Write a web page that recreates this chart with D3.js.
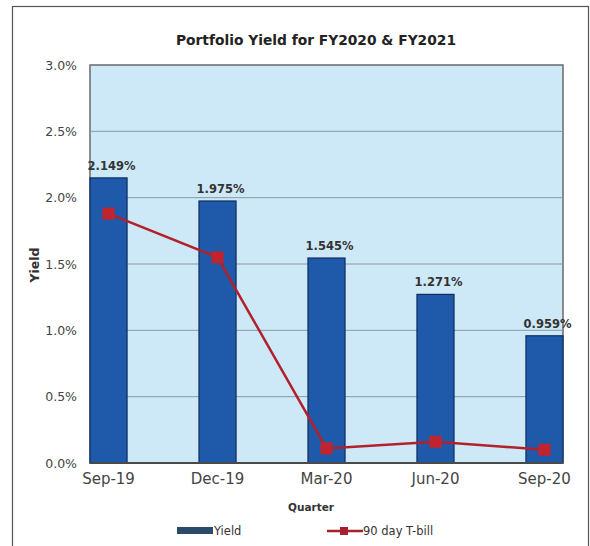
<!DOCTYPE html>
<html>
<head>
<meta charset="utf-8">
<script src="https://cdn.jsdelivr.net/npm/d3@7"></script>
<style>
  body { margin: 0; background: #fff; }
  text { font-family: "DejaVu Sans", sans-serif; }
</style>
</head>
<body>
<div id="chart"></div>
<script>
// chart values
var quarters = ["Sep-19", "Dec-19", "Mar-20", "Jun-20", "Sep-20"];
var yieldValues = [2.149, 1.975, 1.545, 1.271, 0.959];
var tbillValues = [1.88, 1.55, 0.11, 0.16, 0.10];
var yTicks = [0, 0.5, 1.0, 1.5, 2.0, 2.5, 3.0];

var width = 590, height = 546;
var plot = {left: 90, right: 563, top: 65, bottom: 463};

var svg = d3.select("#chart").append("svg")
    .attr("width", width)
    .attr("height", height);

// outer frame
svg.append("rect")
    .attr("x", 12.5).attr("y", 6.5)
    .attr("width", 576).attr("height", 560)
    .attr("fill", "#fff")
    .attr("stroke", "#555")
    .attr("stroke-width", 1.2);

var x = d3.scaleBand()
    .domain(quarters)
    .range([plot.left, plot.right])
    .paddingInner(0.66)
    .paddingOuter(0);

var y = d3.scaleLinear()
    .domain([0, 3])
    .range([plot.bottom, plot.top]);

// plot background
svg.append("rect")
    .attr("x", plot.left).attr("y", plot.top)
    .attr("width", plot.right - plot.left)
    .attr("height", plot.bottom - plot.top)
    .attr("fill", "#cde8f6")
    .attr("stroke", "#6a6a6a")
    .attr("stroke-width", 1.5);

// gridlines
svg.append("g")
    .selectAll("line")
    .data(yTicks.slice(1, -1))
    .enter().append("line")
    .attr("x1", plot.left).attr("x2", plot.right)
    .attr("y1", function(d){ return y(d); })
    .attr("y2", function(d){ return y(d); })
    .attr("stroke", "#8a9aa3")
    .attr("stroke-width", 1);

// y axis
var yAxis = svg.append("g")
    .attr("transform", "translate(" + plot.left + ",0)")
    .call(d3.axisLeft(y).tickValues(yTicks)
        .tickFormat(function(d){ return d.toFixed(1) + "%"; })
        .tickSize(0).tickPadding(13));
yAxis.select(".domain").remove();
yAxis.selectAll("text").attr("font-size", 12.5).attr("fill", "#444");

// bars
svg.append("g")
    .selectAll("rect")
    .data(yieldValues)
    .enter().append("rect")
    .attr("x", function(d, i){ return x(quarters[i]); })
    .attr("y", function(d){ return y(d); })
    .attr("width", x.bandwidth())
    .attr("height", function(d){ return plot.bottom - y(d); })
    .attr("fill", "#1f5aaa")
    .attr("stroke", "#0f2f5e")
    .attr("stroke-width", 1.2);

// bar labels
svg.append("g")
    .selectAll("text")
    .data(yieldValues)
    .enter().append("text")
    .attr("x", function(d, i){ return x(quarters[i]) + x.bandwidth() / 2 + 3; })
    .attr("y", function(d){ return y(d) - 8; })
    .attr("text-anchor", "middle")
    .attr("font-size", 11.5)
    .attr("font-weight", "bold")
    .attr("fill", "#333")
    .text(function(d){ return d.toFixed(3) + "%"; });

// x axis line
svg.append("line")
    .attr("x1", plot.left).attr("x2", plot.right)
    .attr("y1", plot.bottom).attr("y2", plot.bottom)
    .attr("stroke", "#4a4a4a").attr("stroke-width", 2);

// x axis
var xAxis = svg.append("g")
    .attr("transform", "translate(0," + plot.bottom + ")")
    .call(d3.axisBottom(x).tickSize(0).tickPadding(10));
xAxis.select(".domain").remove();
xAxis.selectAll("text").attr("font-size", 15).attr("fill", "#444");

// T-bill line
var line = d3.line()
    .x(function(d, i){ return x(quarters[i]) + x.bandwidth() / 2; })
    .y(function(d){ return y(d); });

svg.append("path")
    .datum(tbillValues)
    .attr("d", line)
    .attr("fill", "none")
    .attr("stroke", "#b2202c")
    .attr("stroke-width", 2.5);

svg.append("g")
    .selectAll("rect")
    .data(tbillValues)
    .enter().append("rect")
    .attr("x", function(d, i){ return x(quarters[i]) + x.bandwidth() / 2 - 6; })
    .attr("y", function(d){ return y(d) - 6; })
    .attr("width", 12).attr("height", 12)
    .attr("fill", "#c0242e");

// title
svg.append("text")
    .attr("x", 316).attr("y", 45)
    .attr("text-anchor", "middle")
    .attr("font-size", 13.8)
    .attr("font-weight", "bold")
    .attr("fill", "#222")
    .text("Portfolio Yield for FY2020 & FY2021");

// axis titles
svg.append("text")
    .attr("transform", "translate(39,265) rotate(-90)")
    .attr("text-anchor", "middle")
    .attr("font-size", 12.5)
    .attr("font-weight", "bold")
    .attr("fill", "#333")
    .text("Yield");

svg.append("text")
    .attr("x", 311).attr("y", 511)
    .attr("text-anchor", "middle")
    .attr("font-size", 10.5)
    .attr("font-weight", "bold")
    .attr("fill", "#333")
    .text("Quarter");

// legend
var legend = svg.append("g").attr("transform", "translate(0,531)");
legend.append("rect")
    .attr("x", 177).attr("y", -4)
    .attr("width", 36).attr("height", 7)
    .attr("fill", "#2a4a6a");
legend.append("text")
    .attr("x", 214).attr("y", 4)
    .attr("font-family", "Liberation Sans, Arial, sans-serif")
    .attr("font-size", 11.5).attr("fill", "#333")
    .text("Yield");
legend.append("line")
    .attr("x1", 327).attr("x2", 363)
    .attr("y1", 0).attr("y2", 0)
    .attr("stroke", "#a3202c").attr("stroke-width", 2.5);
legend.append("rect")
    .attr("x", 340).attr("y", -4)
    .attr("width", 8).attr("height", 8)
    .attr("fill", "#a3202c");
legend.append("text")
    .attr("x", 363).attr("y", 4)
    .attr("font-family", "Liberation Sans, Arial, sans-serif")
    .attr("font-size", 11.5).attr("fill", "#333")
    .text("90 day T-bill");
</script>
</body>
</html>
